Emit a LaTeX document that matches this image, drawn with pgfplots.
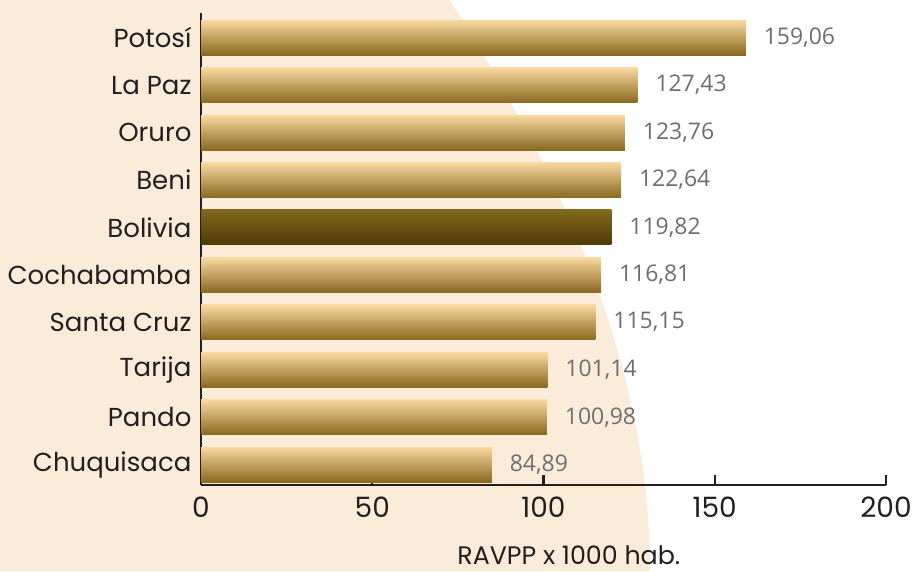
\documentclass[border=0pt]{standalone}
\usepackage{fontspec}
\setmainfont{Poppins}
\newfontfamily\valfont{Open Sans}
\usepackage{pgfplots}
\pgfplotsset{compat=1.18}
\definecolor{bgbeige}{RGB}{250,236,216}
\definecolor{bartop}{RGB}{249,217,160}
\definecolor{barbot}{RGB}{137,104,32}
\definecolor{boltop}{RGB}{130,104,30}
\definecolor{bolbot}{RGB}{78,58,5}
\definecolor{valgray}{RGB}{110,110,113}
\definecolor{axdark}{RGB}{35,31,32}
\pgfplotsset{
  goldbar/.style={xbar, bar width=26.25pt, bar shift=0pt, draw=none, top color=bartop, bottom color=barbot},
  boldbar/.style={xbar, bar width=26.25pt, bar shift=0pt, draw=none, top color=boltop, bottom color=bolbot},
}
\begin{document}
\begin{tikzpicture}
\begin{scope}[x=0.75pt,y=0.75pt]
\useasboundingbox (0,0) rectangle (916,571);
\fill[white] (0,0) rectangle (916,571);
\fill[bgbeige] (0,571) -- (450,571) .. controls (530,441) and (650,241) .. (650,0) -- (0,0) -- cycle;
\end{scope}
\begin{axis}[
  at={(150.75pt,64.5pt)}, anchor=south west,
  width=513.75pt, height=354pt, scale only axis,
  xmin=0, xmax=200, ymin=-0.43, ymax=9.52,
  axis x line*=bottom, axis y line*=left,
  axis line style={line width=1.6pt, color=axdark, -},
  xtick={0,50,100,150,200},
  xtick align=inside,
  major tick length=7.5pt,
  x tick style={line width=1.6pt, color=axdark},
  y tick style={draw=none},
  ytick={0,...,9},
  yticklabels={Chuquisaca,Pando,Tarija,Santa Cruz,Cochabamba,Bolivia,Beni,Oruro,La Paz,Potosí},
  yticklabel style={font=\fontsize{19.5}{22}\selectfont, text=axdark, anchor=east, inner sep=0pt, xshift=-7pt},
  xticklabel style={font=\fontsize{21}{24}\selectfont, text=axdark, anchor=north, inner sep=0pt, yshift=-9pt},
  /pgf/number format/assume math mode=true,
  xlabel={RAVPP x 1000 hab.},
  xlabel style={at={(axis description cs:0.537,-0.148)}, anchor=center, font=\fontsize{19}{21}\selectfont, text=axdark},
  clip=false,
  point meta=x,
  nodes near coords={\pgfmathprintnumber[fixed,fixed zerofill,precision=2,use comma,assume math mode=true]{\pgfplotspointmeta}},
  every node near coord/.append style={font=\valfont\fontsize{17.2}{19}\selectfont, text=valgray, anchor=west, xshift=10pt},
]
\addplot[goldbar] coordinates {(84.89,0)};
\addplot[goldbar] coordinates {(100.98,1)};
\addplot[goldbar] coordinates {(101.14,2)};
\addplot[goldbar] coordinates {(115.15,3)};
\addplot[goldbar] coordinates {(116.81,4)};
\addplot[boldbar] coordinates {(119.82,5)};
\addplot[goldbar] coordinates {(122.64,6)};
\addplot[goldbar] coordinates {(123.76,7)};
\addplot[goldbar] coordinates {(127.43,8)};
\addplot[goldbar] coordinates {(159.06,9)};
\end{axis}
\end{tikzpicture}
\end{document}
